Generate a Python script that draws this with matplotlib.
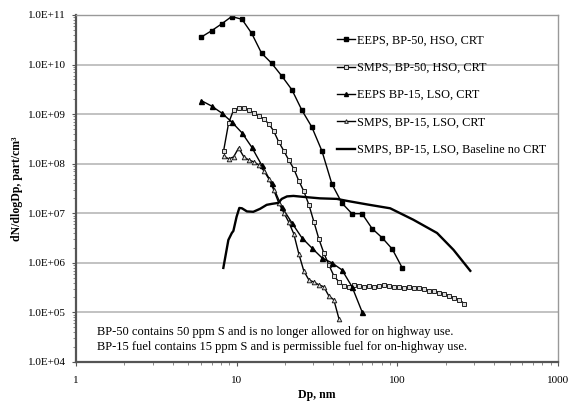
import numpy as np
import matplotlib
matplotlib.use('Agg')
import matplotlib.pyplot as plt
from matplotlib.ticker import FixedLocator, FuncFormatter, NullFormatter

plt.rcParams['font.family'] = ['Liberation Serif', 'DejaVu Serif']

# EEPS channels (nm)
eeps_dp = [6.04, 6.98, 8.06, 9.31, 10.8, 12.4, 14.3, 16.5, 19.1, 22.1, 25.5,
           29.4, 34.0, 39.2, 45.3, 52.3, 60.4, 69.8, 80.6, 93.1, 107.5]
eeps_bp50 = [3.6e10, 4.8e10, 6.6e10, 9.3e10, 8.2e10, 4.3e10, 1.7e10, 1.07e10,
             5.9e9, 3.1e9, 1.2e9, 5.5e8, 1.8e8, 3.9e7, 1.6e7, 9.8e6, 9.8e6,
             4.9e6, 3.2e6, 1.9e6, 7.9e5]
eeps_bp15 = [1.87e9, 1.46e9, 1.06e9, 7.0e8, 4.2e8, 2.18e8, 9.5e7, 4.1e7,
             1.35e7, 6.4e6, 3.2e6, 2.0e6, 1.26e6, 1.0e6, 7.2e5, 3.3e5, 1.03e5]

# SMPS channels (nm)
smps_dp = [8.30, 8.92, 9.58, 10.3, 11.1, 11.9, 12.8, 13.7, 14.8, 15.9, 17.0,
           18.3, 19.7, 21.1, 22.7, 24.4, 26.2, 28.2, 30.3, 32.5, 34.9, 37.5,
           40.3, 43.4, 46.6, 50.1, 53.8, 57.8, 62.1, 66.8, 71.7, 77.1, 82.8,
           89.0, 95.7, 102.8, 110.5, 118.7, 127.6, 137.1, 147.3, 158.3, 170.2,
           182.9, 196.5, 211.2, 226.9, 243.9, 262.1]
smps_bp50 = [1.81e8, 6.6e8, 1.22e9, 1.33e9, 1.33e9, 1.22e9, 1.06e9, 9.2e8,
             8.0e8, 6.3e8, 4.6e8, 2.75e8, 1.81e8, 1.19e8, 7.9e7, 4.5e7, 2.8e7,
             1.48e7, 6.7e6, 3.05e6, 1.59e6, 9.1e5, 5.5e5, 4.1e5, 3.4e5, 3.3e5,
             3.6e5, 3.4e5, 3.3e5, 3.4e5, 3.3e5, 3.4e5, 3.5e5, 3.4e5, 3.3e5,
             3.3e5, 3.1e5, 3.2e5, 3.1e5, 3.1e5, 3.0e5, 2.7e5, 2.75e5, 2.5e5,
             2.4e5, 2.16e5, 1.97e5, 1.8e5, 1.49e5]
smps_bp15 = [1.44e8, 1.25e8, 1.37e8, 2.08e8, 1.37e8, 1.19e8, 1.09e8, 9.5e7,
             7.2e7, 4.9e7, 3.0e7, 1.62e7, 1.02e7, 6.7e6, 3.85e6, 1.52e6, 6.9e5,
             4.5e5, 4.1e5, 3.6e5, 3.3e5, 2.16e5, 1.8e5, 7.4e4]

# baseline run without CRT
base_dp = [8.27, 8.89, 9.34, 9.55, 10.0, 10.4, 10.8, 11.6, 12.7, 14.0, 15.4,
           16.6, 18.2, 19.1, 20.6, 22.6, 26.1, 33.1, 42.1, 48.6, 64.8, 90.4,
           126, 177, 224, 285]
base_n = [7.9e5, 2.9e6, 4.0e6, 4.4e6, 8.5e6, 1.28e7, 1.26e7, 1.09e7, 1.07e7,
          1.23e7, 1.48e7, 1.55e7, 1.62e7, 1.95e7, 2.19e7, 2.24e7, 2.14e7,
          2.0e7, 1.95e7, 1.78e7, 1.51e7, 1.26e7, 7.4e6, 4.0e6, 1.83e6, 6.9e5]

labels = ['EEPS, BP-50, HSO, CRT', 'SMPS, BP-50, HSO, CRT',
          'EEPS BP-15, LSO, CRT', 'SMPS, BP-15, LSO, CRT',
          'SMPS, BP-15, LSO, Baseline no CRT']
note = ('BP-50 contains 50 ppm S and is no longer allowed for on highway use.\n'
        'BP-15 fuel contains 15 ppm S and is permissible fuel for on-highway use.')

fig = plt.figure(figsize=(5.71, 4.01), dpi=100)
ax = fig.add_axes([0.133, 0.0973, 0.844, 0.8653])

ax.plot(eeps_dp, eeps_bp50, color='black', lw=1.0, marker='s', ms=3.4,
        mfc='black', mec='black', label=labels[0])
ax.plot(smps_dp[:len(smps_bp50)], smps_bp50, color='black', lw=1.0, marker='s',
        ms=3.0, mfc='#dddddd', mec='#222222', mew=0.7, label=labels[1])
ax.plot(eeps_dp[:len(eeps_bp15)], eeps_bp15, color='black', lw=1.0, marker='^',
        ms=3.6, mfc='black', mec='black', label=labels[2])
ax.plot(smps_dp[:len(smps_bp15)], smps_bp15, color='black', lw=1.0, marker='^',
        ms=3.3, mfc='#dddddd', mec='#222222', mew=0.7, label=labels[3])
ax.plot(base_dp, base_n, color='black', lw=1.7, label=labels[4])

ax.set_xscale('log')
ax.set_yscale('log')
ax.set_xlim(1, 1000)
ax.set_ylim(1e4, 1e11)

ax.yaxis.set_major_locator(FixedLocator([10.0 ** k for k in range(4, 12)]))
ax.yaxis.set_major_formatter(FuncFormatter(
    lambda v, p: '1.0E+%02d' % int(round(np.log10(v)))))
ax.yaxis.set_minor_formatter(NullFormatter())
ax.xaxis.set_major_locator(FixedLocator([1, 10, 100, 1000]))
ax.xaxis.set_major_formatter(FuncFormatter(lambda v, p: '%d' % v))
ax.xaxis.set_minor_formatter(NullFormatter())

ax.grid(True, axis='y', which='major', color='#b8b8b8', lw=1.2)
ax.set_axisbelow(True)
for side in ['left', 'bottom']:
    ax.spines[side].set_color('#555555')
    ax.spines[side].set_linewidth(1.6)
for side in ['top', 'right']:
    ax.spines[side].set_color('#999999')
    ax.spines[side].set_linewidth(1.0)

ax.tick_params(axis='both', which='major', labelsize=8, length=3,
               color='#555555', pad=4)
ax.tick_params(axis='both', which='minor', length=2, color='#777777')
ax.tick_params(axis='x', which='major', pad=7)

ax.set_xlabel('Dp, nm', fontsize=8.5, fontweight='bold', labelpad=3)
ax.set_ylabel('dN/dlogDp, part/cm³', fontsize=8.5, fontweight='bold',
              labelpad=4)

ax.legend(loc='upper left', bbox_to_anchor=(0.518, 0.975), frameon=False,
          fontsize=8.8, labelspacing=1.25, handlelength=1.5,
          handletextpad=0.2, markerscale=0.8)

ax.text(0.044, 0.064, note, transform=ax.transAxes, fontsize=9,
        va='center', ha='left', linespacing=1.3)

fig.savefig('out.png', dpi=100)
